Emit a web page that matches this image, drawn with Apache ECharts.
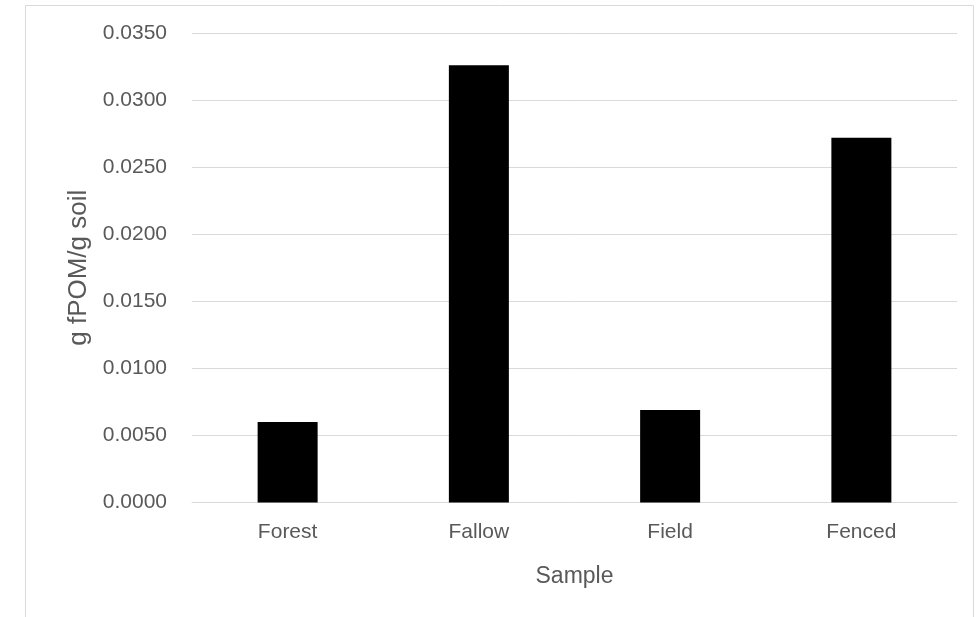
<!DOCTYPE html>
<html>
<head>
<meta charset="utf-8">
<style>
  html, body { margin: 0; padding: 0; background: #ffffff; }
  #chart { width: 980px; height: 617px; }
</style>
<script src="https://cdn.jsdelivr.net/npm/echarts@6/dist/echarts.min.js"></script>
</head>
<body>
<div id="chart"></div>
<script>
// Fine particulate organic matter per gram of soil, by sample site
const categories = ['Forest', 'Fallow', 'Field', 'Fenced'];
const fpomValues = [0.0060, 0.0326, 0.0069, 0.0272];
const yTicks = { min: 0, max: 0.035, step: 0.005 };
const xTitle = 'Sample';
const yTitle = 'g fPOM/g soil';

const textColor = '#595959';
const gridColor = '#d9d9d9';
const fontFamily = '"Liberation Sans", Arial, sans-serif';

const chart = echarts.init(document.getElementById('chart'), null, { renderer: 'canvas' });

chart.setOption({
  backgroundColor: '#ffffff',
  animation: false,
  graphic: [{
    type: 'rect',
    shape: { x: 25.5, y: 5.5, width: 948, height: 640 },
    style: { fill: 'none', stroke: gridColor, lineWidth: 1 },
    silent: true
  }],
  grid: { left: 192, right: 23, top: 33, bottom: 114.5, containLabel: false },
  xAxis: {
    type: 'category',
    data: categories,
    name: xTitle,
    nameLocation: 'middle',
    nameGap: 63,
    nameTextStyle: { color: textColor, fontSize: 23, fontFamily: fontFamily },
    axisLine: { show: true, lineStyle: { color: gridColor, width: 1 } },
    axisTick: { show: false },
    axisLabel: { color: textColor, fontSize: 21, fontFamily: fontFamily, margin: 19 }
  },
  yAxis: {
    type: 'value',
    min: yTicks.min,
    max: yTicks.max,
    interval: yTicks.step,
    name: yTitle,
    nameLocation: 'middle',
    nameGap: 94,
    nameRotate: 90,
    nameTextStyle: { color: textColor, fontSize: 26, fontFamily: fontFamily },
    axisLine: { show: false },
    axisTick: { show: false },
    axisLabel: {
      color: textColor, fontSize: 21, fontFamily: fontFamily, margin: 25,
      formatter: v => v.toFixed(4)
    },
    splitLine: { show: true, lineStyle: { color: gridColor, width: 1 } }
  },
  series: [{
    type: 'bar',
    data: fpomValues,
    barWidth: 60,
    itemStyle: { color: '#000000' }
  }]
});
</script>
</body>
</html>
